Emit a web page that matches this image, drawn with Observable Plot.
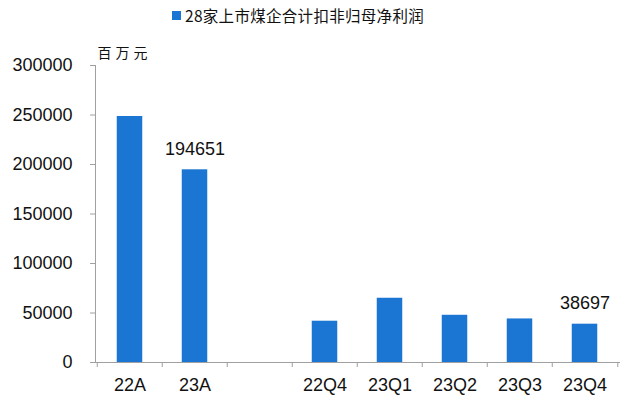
<!DOCTYPE html>
<html><head><meta charset="utf-8">
<script src="https://cdn.jsdelivr.net/npm/d3@7"></script>
<script src="https://cdn.jsdelivr.net/npm/@observablehq/plot@0.6"></script>
<style>
body{margin:0;background:#fff;}
#wrap{width:623px;position:relative;}
#legend{height:30px;display:flex;align-items:center;padding-left:172px;font-family:"Noto Sans CJK SC",sans-serif;font-size:15.5px;color:#111;box-sizing:border-box;letter-spacing:0.3px;}
#legend .sw{display:inline-block;width:9px;height:9px;background:#1a76d2;margin-right:4px;}
</style></head><body>
<div id="wrap"><div id="legend"><span class="sw"></span><span id="lname"></span></div><div id="chart"></div></div>
<script>
const seriesName = "28家上市煤企合计扣非归母净利润";
const unitLabel = "百万元";
const categories = ["22A", "23A", "", "22Q4", "23Q1", "23Q2", "23Q3", "23Q4"];
const values = [248500, 194651, null, 41700, 64900, 47700, 44000, 38697];
const labeledCategories = ["23A", "23Q4"];
const yTicks = [0, 50000, 100000, 150000, 200000, 250000, 300000];

document.getElementById("lname").textContent = seriesName;

const data = categories.map((c, i) => ({cat: c, value: values[i]})).filter(d => d.value != null);
const labeled = data.filter(d => labeledCategories.includes(d.cat));

const W = 623, H = 366, mL = 95, mR = 4, mT = 35, mB = 34;
const step = (W - mL - mR) / categories.length;
const barW = 26;
const inset = (step - barW) / 2;
const font = "Liberation Sans, Arial, sans-serif";

const plot = Plot.plot({
  width: W, height: H,
  marginLeft: mL, marginRight: mR, marginTop: mT, marginBottom: mB,
  style: {fontFamily: font, background: "#fff", color: "#111"},
  x: {domain: categories, padding: 0, label: null},
  y: {domain: [0, 300000], label: null},
  marks: [
    Plot.barY(data, {x: "cat", y: "value", fill: "#1a76d2", insetLeft: inset, insetRight: inset}),
    Plot.text(labeled, {x: "cat", y: "value", text: d => String(d.value), dy: -21, fontSize: 18, fill: "#111", fontFamily: font}),
    Plot.frame({anchor: "left", stroke: "#a0a0a0"}),
    Plot.frame({anchor: "bottom", stroke: "#a0a0a0"}),
    Plot.ruleX(categories, {x: d => d, dx: -step / 2, stroke: "#a0a0a0", insetTop: H - mT - mB, insetBottom: -5}),
    Plot.ruleX([categories[categories.length - 1]], {x: d => d, dx: step / 2, stroke: "#a0a0a0", insetTop: H - mT - mB, insetBottom: -5}),
    Plot.axisY({ticks: yTicks, tickSize: 5, tickPadding: 18, stroke: "#a0a0a0", fill: "#111", fontSize: 18, tickFormat: d => String(d), label: null}),
    Plot.axisX({tickSize: 0, tickPadding: 16, fontSize: 18, fill: "#111", label: null}),
    Plot.text([unitLabel], {frameAnchor: "top-left", dx: 2, dy: -17, textAnchor: "start", fontSize: 14, fill: "#111", fontFamily: "Noto Sans CJK SC"})
  ]
});
d3.select(plot).selectAll("text").filter(function() { return this.textContent === unitLabel; })
  .style("letter-spacing", "4px");
document.getElementById("chart").appendChild(plot);
</script>
</body></html>
